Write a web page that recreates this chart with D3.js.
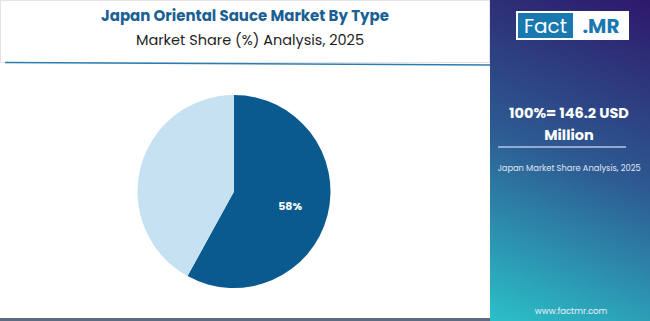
<!DOCTYPE html>
<html>
<head>
<meta charset="utf-8">
<script src="https://cdn.jsdelivr.net/npm/d3@7"></script>
<style>
  body { margin: 0; background: #fff; }
  svg { display: block; font-family: "Poppins", "Inter", "Open Sans", sans-serif; }
</style>
</head>
<body>
<svg class="chart" width="650" height="321"></svg>
<script>
var svg = d3.select(".chart"),
    width = +svg.attr("width"),
    height = +svg.attr("height");

// data
var segments = ["Type A", "Type B"];
var shares = [58, 42];
var colors = ["#0a5a8f", "#c6e1f1"];
var totalLabel = ["100%= 146.2 USD", "Million"];

var panelX = 490;

var defs = svg.append("defs");
var grad = defs.append("linearGradient")
    .attr("id", "side")
    .attr("gradientUnits", "userSpaceOnUse")
    .attr("x1", 640).attr("y1", 0)
    .attr("x2", 510).attr("y2", 321);
grad.append("stop").attr("offset", "0%").attr("stop-color", "#2e1a6b");
grad.append("stop").attr("offset", "50%").attr("stop-color", "#2d5a92");
grad.append("stop").attr("offset", "100%").attr("stop-color", "#2bbcc6");

// header box
svg.append("rect")
    .attr("x", 0.5).attr("y", 0.5)
    .attr("width", panelX - 1).attr("height", 62)
    .attr("fill", "#fff")
    .attr("stroke", "#e4e4e4");

svg.append("line")
    .attr("x1", 5).attr("y1", 62.5)
    .attr("x2", panelX).attr("y2", 65)
    .attr("stroke", "#2c7cb0")
    .attr("stroke-width", 1.6);

svg.append("text")
    .attr("x", 245).attr("y", 21)
    .attr("text-anchor", "middle")
    .style("font-size", "15px").style("font-weight", "700")
    .style("fill", "#1b5f95")
    .text("Japan Oriental Sauce Market By Type");

svg.append("text")
    .attr("x", 250).attr("y", 45)
    .attr("text-anchor", "middle")
    .style("font-size", "14.5px")
    .style("fill", "#1f1f1f")
    .text("Market Share (%) Analysis, 2025");

// pie
var pie = d3.pie().sort(null).value(function(d) { return d; });
var radius = 96.5;
var arc = d3.arc().innerRadius(0).outerRadius(radius);
var labelArc = d3.arc().innerRadius(radius * 0.6).outerRadius(radius * 0.6);

var g = svg.append("g").attr("transform", "translate(234,191.5)");
var arcs = pie(shares);

g.selectAll("path")
    .data(arcs)
    .enter().append("path")
    .attr("d", arc)
    .attr("fill", function(d, i) { return colors[i]; });

g.selectAll("text")
    .data(arcs.filter(function(d) { return d.index === 0; }))
    .enter().append("text")
    .attr("transform", function(d) { return "translate(" + labelArc.centroid(d) + ")"; })
    .attr("dy", "0.35em")
    .attr("text-anchor", "middle")
    .style("font-size", "11px").style("font-weight", "700")
    .style("fill", "#fff")
    .text(function(d) { return d.data + "%"; });

// bottom band
svg.append("rect")
    .attr("x", 0).attr("y", 318)
    .attr("width", panelX).attr("height", 3)
    .attr("fill", "#5b6b82");

// side panel
svg.append("rect")
    .attr("x", panelX).attr("y", 0)
    .attr("width", width - panelX).attr("height", height)
    .attr("fill", "url(#side)");

// logo
svg.append("rect")
    .attr("x", 516).attr("y", 11)
    .attr("width", 113).attr("height", 29)
    .attr("fill", "#fff");
svg.append("rect")
    .attr("x", 518).attr("y", 13)
    .attr("width", 55).attr("height", 25)
    .attr("fill", "#1a78b0");
svg.append("text")
    .attr("x", 545.5).attr("y", 33)
    .attr("text-anchor", "middle")
    .style("font-size", "20px")
    .style("fill", "#fff")
    .text("Fact");
svg.append("text")
    .attr("x", 601).attr("y", 33)
    .attr("text-anchor", "middle")
    .style("font-size", "20px").style("font-weight", "700")
    .style("fill", "#1a78b0")
    .text(".MR");

svg.selectAll(".total")
    .data(totalLabel)
    .enter().append("text")
    .attr("class", "total")
    .attr("x", 569)
    .attr("y", function(d, i) { return 118 + i * 22; })
    .attr("text-anchor", "middle")
    .style("font-size", "14.5px").style("font-weight", "700")
    .style("fill", "#fff")
    .text(function(d) { return d; });

svg.append("line")
    .attr("x1", 498).attr("y1", 147)
    .attr("x2", 626).attr("y2", 147)
    .attr("stroke", "#b9c3e6")
    .attr("stroke-width", 1.5);

svg.append("text")
    .attr("x", 569).attr("y", 171)
    .attr("text-anchor", "middle")
    .style("font-size", "8.3px")
    .style("fill", "#e2e6f4")
    .text("Japan Market Share Analysis, 2025");

svg.append("text")
    .attr("x", 571).attr("y", 314)
    .attr("text-anchor", "middle")
    .style("font-size", "8.5px")
    .style("fill", "#eef")
    .text("www.factmr.com");
</script>
</body>
</html>
